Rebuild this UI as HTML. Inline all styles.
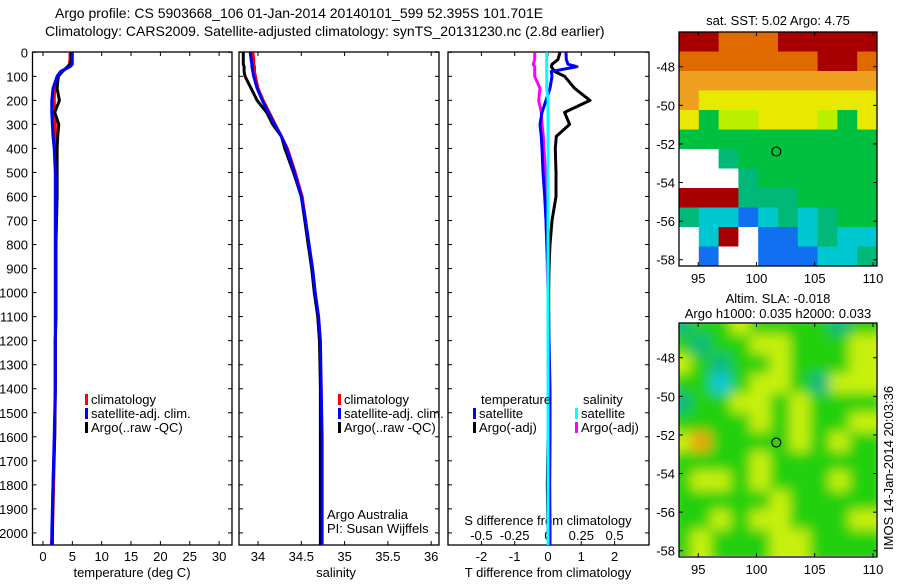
<!DOCTYPE html>
<html><head><meta charset="utf-8"><style>
body{margin:0;background:#fff}
svg text{font-family:"Liberation Sans",Arial,sans-serif;font-size:13px;fill:#000}
svg text.ttl{font-size:14px}
</style></head><body>
<svg id="c" width="900" height="580" xmlns="http://www.w3.org/2000/svg">
<defs><filter id="blur"><feGaussianBlur stdDeviation="6"/></filter>
<clipPath id="m2clip"><rect x="679" y="323" width="198" height="233"/></clipPath></defs>
<text class="ttl" x="55" y="18">Argo profile: CS 5903668_106 01-Jan-2014 20140101_599 52.395S 101.701E</text>
<text class="ttl" x="45" y="36">Climatology: CARS2009. Satellite-adjusted climatology: synTS_20131230.nc (2.8d earlier)</text>
<g id="g"></g>
</svg>
<script>
const depths=[0,30,50,60,80,100,150,200,250,300,350,400,500,600,700,800,900,1000,1100,1200,1400,1600,1800,2000,2050];
const tempClim=[4.6,4.6,4.5,4.2,3.2,2.4,2.0,1.9,2.0,2.1,2.1,2.2,2.2,2.2,2.2,2.2,2.2,2.2,2.2,2.1,2.1,2.0,1.8,1.6,1.4];
const tempSat=[5.0,5.0,5.0,4.6,3.0,2.4,1.7,1.5,1.5,1.6,1.7,1.9,2.1,2.1,2.1,2.1,2.1,2.1,2.1,2.1,2.1,1.9,1.7,1.5,1.5];
const tempArgo=[4.8,4.8,4.6,4.2,3.3,2.6,2.4,2.8,2.0,2.7,2.5,2.4,2.4,2.4,2.3,2.2,2.2,2.2,2.2,2.1,2.1,2.0,1.7,1.6,1.6];
const salClim=[33.94,33.95,33.95,33.96,33.96,33.97,34.0,34.06,34.13,34.2,34.27,34.34,34.43,34.51,34.55,34.58,34.63,34.66,34.69,34.71,34.73,34.73,34.73,34.73,34.72];
const salSat=[33.91,33.92,33.93,33.93,33.94,33.95,33.99,34.05,34.12,34.19,34.27,34.33,34.42,34.5,34.55,34.59,34.63,34.66,34.7,34.72,34.73,34.74,34.74,34.74,34.74];
const salArgo=[33.83,33.83,33.83,33.84,33.84,33.85,33.92,33.99,34.1,34.17,34.27,34.31,34.41,34.5,34.54,34.58,34.62,34.65,34.69,34.71,34.72,34.72,34.72,34.72,34.72];
const dTSat=[0.54,0.55,0.6,0.87,0.1,0.12,0.06,-0.06,-0.18,-0.24,-0.2,-0.18,-0.15,-0.1,-0.06,-0.03,0.0,0.0,0.02,0.03,0.06,0.06,0.05,0.06,0.06];
const dTArgo=[0.36,0.3,0.12,0.1,0.2,0.5,0.8,1.26,0.5,0.65,0.25,0.22,0.24,0.24,0.12,0.06,0.03,0.02,0.02,0.01,0.0,0.0,-0.02,0.0,0.0];
const dSSat=[-0.01,-0.01,-0.01,-0.01,-0.01,-0.01,-0.01,0.0,0.0,0.0,0.0,0.0,0.0,0.0,0.0,0.0,0.0,0.0,0.0,0.0,0.0,0.0,0.0,0.0,0.0];
const dSArgo=[-0.1,-0.1,-0.11,-0.1,-0.1,-0.1,-0.06,-0.07,-0.05,-0.045,-0.035,-0.03,-0.02,-0.02,-0.015,-0.01,-0.005,0,0,0,0,0,0,0,0];
const depthTicks=[0,100,200,300,400,500,600,700,800,900,1000,1100,1200,1300,1400,1500,1600,1700,1800,1900,2000];
const tempTicks=[0,5,10,15,20,25,30];
const salTicks=[34,34.5,35,35.5,36];
const dTTicks=[-2,-1,0,1,2];
const dSTicks=[-0.5,-0.25,0,0.25,0.5];
const dSTickLabels=["-0.5","-0.25","0","0.25","0.5"];
const lonTicks=[95,100,105,110];
const latTicks=[-48,-50,-52,-54,-56,-58];
const sstGrid=["RROOORRRRR","OOOOOOORRO","oooooooooo","oYYYYYYYYY","YGyyYYYyGY","GGGGGGGGGG","WWgGGGGGGG","WWWgGGGGGG","RRRgggGGGG","gCCBCgCgGG","WCRWBBCgCC","WBWWBBBCCg"];
const slaGrid=["tGGyGGGGtG","GtGGyyGGGy","yGtGGyGGGy","GGcGyyGtyy","tGGyyGyGGG","GGGGyGyGGy","yoGGGGyGyG","GGGGyGGGGG","GyyGyGGGyG","GGGGGyGGGG","GGyGyyGGGy","GyGGGyyGGG"];
const argoLon=101.701, argoLat=-52.395;

const NS="http://www.w3.org/2000/svg";
const G=document.getElementById('g');
function el(t,a,p){const e=document.createElementNS(NS,t);for(const k in a)e.setAttribute(k,a[k]);(p||G).appendChild(e);return e;}
const yD=d=>52.3+d*0.2403;
const xT=t=>43+t*5.87;
const xS=s=>258+(s-34)*86.6;
const xdT=v=>548+v*33.3;
const xdS=v=>548+v*133.2;
const axTop=52,bot=545;
const panels=[[32.5,232],[239,439],[448,649]];

panels.forEach((p,i)=>{
  const r=el('rect',{x:p[0],y:axTop,width:p[1]-p[0],height:bot-axTop,fill:'none',stroke:'#000','stroke-width':1.3});
  
  
  depthTicks.forEach(d=>{
    el('line',{x1:p[0],x2:p[0]+4,y1:yD(d),y2:yD(d),stroke:'#000'});
    el('line',{x1:p[1],x2:p[1]-4,y1:yD(d),y2:yD(d),stroke:'#000'});
  });
});
depthTicks.forEach(d=>{
  const t=el('text',{x:28,y:yD(d)+5,'text-anchor':'end'});t.textContent=d;
  
  
});
function xTicks(vals,f,labels,y,lab){
  vals.forEach((v,i)=>{
    el('line',{x1:f(v),x2:f(v),y1:bot,y2:bot-4,stroke:'#000'});
    el('line',{x1:f(v),x2:f(v),y1:axTop,y2:axTop+4,stroke:'#000'});
    const t=el('text',{x:f(v),y:y,'text-anchor':'middle'});t.textContent=labels?labels[i]:v;
    
    
  });
}
xTicks(tempTicks,xT,null,561,'temperature-tick-label');
xTicks(salTicks,xS,null,561,'salinity-tick-label');
xTicks(dTTicks,xdT,null,561,'t-diff-tick-label');
dSTicks.forEach((v,i)=>{const t=el('text',{x:xdS(v),y:540,'text-anchor':'middle'});t.textContent=dSTickLabels[i];
  });
function txt(x,y,s,name,anchor){const t=el('text',{x:x,y:y,'text-anchor':anchor||'start'});t.textContent=s;
  return t;}
txt(132,577,'temperature (deg C)','x-axis-title-temperature','middle');
txt(336,577,'salinity','x-axis-title-salinity','middle');
txt(548,577,'T difference from climatology','x-axis-title-t-diff','middle');
txt(548,525,'S difference from climatology','s-diff-axis-title','middle');

function line(xs,f,color,name,w){
  const pts=xs.map((v,i)=>f(v).toFixed(1)+','+yD(depths[i]).toFixed(1)).join(' ');
  const pl=el('polyline',{points:pts,fill:'none',stroke:color,'stroke-width':w||3,'stroke-linejoin':'round'});
  
  
}
line(tempClim,xT,'#f00','temp-climatology-line');
line(tempArgo,xT,'#000','temp-argo-line');
line(tempSat,xT,'#00f','temp-satellite-line');
line(salClim,xS,'#f00','sal-climatology-line');
line(salArgo,xS,'#000','sal-argo-line');
line(salSat,xS,'#00f','sal-satellite-line');
line(dTArgo,xdT,'#000','t-diff-argo-line');
line(dSArgo,xdS,'#f0f','s-diff-argo-line');
line(dTSat,xdT,'#00f','t-diff-satellite-line');
line(dSSat,xdS,'#0ff','s-diff-satellite-line');

function leg(x,y,color,s,name){
  el('rect',{x:x,y:y-10,width:3,height:11,fill:color});
  txt(x+6,y,s,name);
}
[[85,'climatology','#f00'],[85,'satellite-adj. clim.','#00f'],[85,'Argo(..raw -QC)','#000']].forEach((e,i)=>{
  leg(e[0],404+i*14,e[2],e[1],'legend-entry-temp');
  leg(338,404+i*14,e[2],e[1],'legend-entry-sal');
});
txt(327,519,'Argo Australia','credit-argo-australia');
txt(327,533,'PI: Susan Wijffels','credit-pi');
txt(481,404,'temperature','legend-header-temperature');
txt(583,404,'salinity','legend-header-salinity');
leg(473,418,'#00f','satellite','legend-entry-t-satellite');
leg(473,432,'#000','Argo(-adj)','legend-entry-t-argo');
leg(575,418,'#0ff','satellite','legend-entry-s-satellite');
leg(575,432,'#f0f','Argo(-adj)','legend-entry-s-argo');

const cols={R:'#a80000',O:'#e06a00',o:'#f0a020',Y:'#e8e800',y:'#b8f000',G:'#00c040',g:'#00b878',C:'#00c8d0',B:'#1070f0',W:'#ffffff'};
const slaCols={G:'#20d010',y:'#c8f010',t:'#10b880',c:'#10c8d8',o:'#f0a010'};
function map(x0,y0,grid,cmap,name,blur){
  const lx=v=>x0+(v-93.35)*11.65;
  const ly=v=>y0+(-46.2-v)*19.3;
  const g=el('g',blur?{'clip-path':'url(#m2clip)'}:{});
  const inner=el('g',blur?{filter:'url(#blur)'}:{},g);
  const rows=grid.length,cw=198/10,rh=234/rows;
  grid.forEach((row,r)=>{for(let c=0;c<row.length;c++){
    const rc=el('rect',{x:x0+c*cw-(blur?8:0),y:y0+r*rh-(blur?8:0),width:cw+(blur?16:0.5),height:rh+(blur?16:0.5),fill:cmap[row[c]]},inner);
    
    
  }});
  const fr=el('rect',{x:x0,y:y0,width:198,height:234,fill:'none',stroke:'#000','stroke-width':1.3});
  
  
  lonTicks.forEach(v=>{
    el('line',{x1:lx(v),x2:lx(v),y1:y0+234,y2:y0+230,stroke:'#000'});
    el('line',{x1:lx(v),x2:lx(v),y1:y0,y2:y0+4,stroke:'#000'});
    txt(lx(v),y0+234+17,String(v),name+'-lon-label','middle');
  });
  latTicks.forEach(v=>{
    el('line',{x1:x0,x2:x0+4,y1:ly(v),y2:ly(v),stroke:'#000'});
    el('line',{x1:x0+198,x2:x0+194,y1:ly(v),y2:ly(v),stroke:'#000'});
    txt(x0-4,ly(v)+5,String(v),name+'-lat-label','end');
  });
  const mk=el('circle',{cx:lx(argoLon),cy:ly(argoLat),r:4.5,fill:'none',stroke:'#000','stroke-width':1.2});
  
  
}
map(679,32,sstGrid,cols,'sst-map',false);
map(679,323,slaGrid,slaCols,'sla-map',true);
txt(778,25,'sat. SST: 5.02 Argo: 4.75','sst-map-title','middle');
txt(778,303,'Altim. SLA: -0.018','sla-map-title-1','middle');
txt(778,318,'Argo h1000: 0.035 h2000: 0.033','sla-map-title-2','middle');
const rt=txt(0,0,'IMOS 14-Jan-2014 20:03:36','imos-timestamp','start');
rt.setAttribute('transform','translate(893,550) rotate(-90)');
</script>
</body></html>
